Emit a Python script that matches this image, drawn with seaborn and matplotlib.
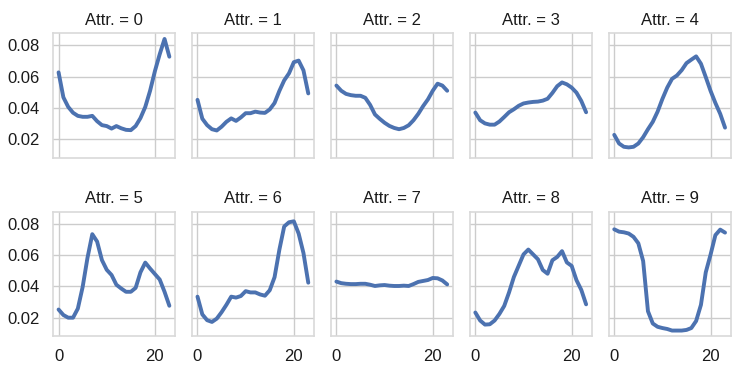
import pandas as pd
import matplotlib
matplotlib.use("Agg")
import matplotlib.pyplot as plt
import seaborn as sns

# hourly share for each attribute value
hours = list(range(24))

attr0 = [0.0627, 0.0468, 0.0407, 0.0370, 0.0350, 0.0344, 0.0344, 0.0350, 0.0316, 0.0291, 0.0285, 0.0269,
         0.0285, 0.0271, 0.0261, 0.0259, 0.0285, 0.0336, 0.0407, 0.0510, 0.0635, 0.0743, 0.0840, 0.0727]
attr1 = [0.0452, 0.0332, 0.0291, 0.0265, 0.0257, 0.0281, 0.0312, 0.0334, 0.0318, 0.0340, 0.0367, 0.0367,
         0.0377, 0.0371, 0.0369, 0.0391, 0.0432, 0.0509, 0.0576, 0.0621, 0.0692, 0.0702, 0.0640, 0.0493]
attr2 = [0.0543, 0.0510, 0.0490, 0.0482, 0.0478, 0.0478, 0.0465, 0.0420, 0.0359, 0.0331, 0.0306, 0.0286,
         0.0273, 0.0265, 0.0273, 0.0290, 0.0322, 0.0363, 0.0412, 0.0455, 0.0510, 0.0555, 0.0543, 0.0510]
attr3 = [0.0371, 0.0322, 0.0302, 0.0294, 0.0294, 0.0314, 0.0343, 0.0373, 0.0392, 0.0414, 0.0429, 0.0435,
         0.0439, 0.0441, 0.0447, 0.0459, 0.0496, 0.0539, 0.0563, 0.0551, 0.0530, 0.0498, 0.0445, 0.0373]
attr4 = [0.0229, 0.0174, 0.0153, 0.0149, 0.0153, 0.0174, 0.0214, 0.0265, 0.0312, 0.0377, 0.0458, 0.0530,
         0.0586, 0.0607, 0.0641, 0.0686, 0.0708, 0.0729, 0.0682, 0.0597, 0.0509, 0.0432, 0.0363, 0.0275]
attr5 = [0.0252, 0.0217, 0.0200, 0.0200, 0.0258, 0.0396, 0.0581, 0.0732, 0.0685, 0.0567, 0.0505, 0.0472,
         0.0410, 0.0386, 0.0365, 0.0365, 0.0390, 0.0489, 0.0551, 0.0513, 0.0478, 0.0443, 0.0365, 0.0276]
attr6 = [0.0334, 0.0221, 0.0184, 0.0173, 0.0194, 0.0235, 0.0282, 0.0334, 0.0328, 0.0338, 0.0369, 0.0361,
         0.0361, 0.0348, 0.0340, 0.0375, 0.0458, 0.0633, 0.0781, 0.0808, 0.0814, 0.0736, 0.0612, 0.0423]
attr7 = [0.0430, 0.0420, 0.0416, 0.0414, 0.0414, 0.0416, 0.0416, 0.0410, 0.0402, 0.0406, 0.0408, 0.0404,
         0.0402, 0.0402, 0.0404, 0.0402, 0.0414, 0.0428, 0.0434, 0.0440, 0.0453, 0.0451, 0.0437, 0.0412]
attr8 = [0.0233, 0.0182, 0.0156, 0.0158, 0.0182, 0.0224, 0.0275, 0.0361, 0.0459, 0.0531, 0.0603, 0.0634,
         0.0603, 0.0572, 0.0504, 0.0480, 0.0566, 0.0587, 0.0624, 0.0552, 0.0530, 0.0439, 0.0377, 0.0285]
attr9 = [0.0763, 0.0748, 0.0744, 0.0736, 0.0715, 0.0674, 0.0561, 0.0241, 0.0163, 0.0142, 0.0134, 0.0128,
         0.0118, 0.0118, 0.0118, 0.0122, 0.0134, 0.0179, 0.0282, 0.0489, 0.0602, 0.0726, 0.0761, 0.0742]

series = [attr0, attr1, attr2, attr3, attr4, attr5, attr6, attr7, attr8, attr9]

# long format for the facet grid
rows = []
for a, vals in enumerate(series):
    for h, v in zip(hours, vals):
        rows.append({"hour": h, "share": v, "Attr.": a})
df = pd.DataFrame(rows)

sns.set_theme(style="whitegrid")
plt.rcParams["font.family"] = ["Liberation Sans", "DejaVu Sans"]
plt.rcParams["xtick.labelsize"] = 12
plt.rcParams["ytick.labelsize"] = 12
plt.rcParams["axes.titlesize"] = 12
plt.rcParams["text.color"] = "0.1"
plt.rcParams["xtick.color"] = "0.1"
plt.rcParams["ytick.color"] = "0.1"

g = sns.relplot(data=df, x="hour", y="share", col="Attr.", col_wrap=5,
                kind="line", color="#4C72B0", linewidth=2.8,
                height=1.8, aspect=1.0, facet_kws={"despine": False})
g.set_axis_labels("", "")
g.set(xticks=[0, 20], yticks=[0.02, 0.04, 0.06, 0.08])

# full light box round each panel like the reference
for ax in g.axes.flat:
    for s in ax.spines.values():
        s.set_visible(True)
        s.set_color("0.85")
        s.set_linewidth(1.2)

g.figure.set_size_inches(7.47, 3.74)
g.figure.subplots_adjust(left=0.071, right=0.978, top=0.911, bottom=0.101,
                         wspace=0.14, hspace=0.43)

plt.savefig("out.png", dpi=100)
